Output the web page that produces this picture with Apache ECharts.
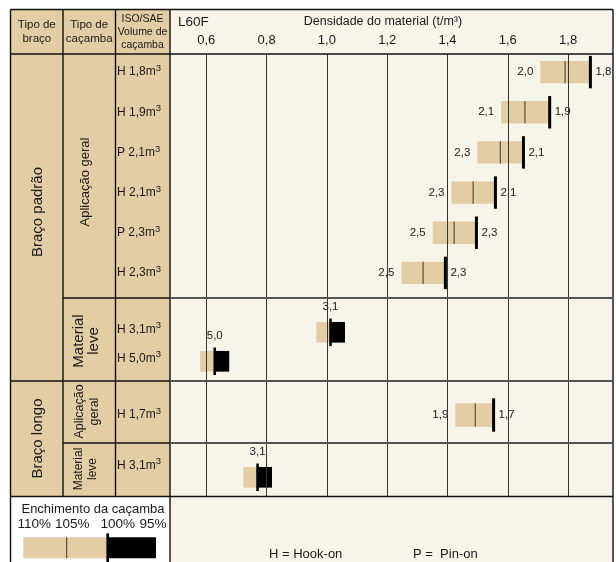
<!DOCTYPE html>
<html><head><meta charset="utf-8">
<script src="https://cdn.jsdelivr.net/npm/echarts@6/dist/echarts.min.js"></script>
<style>html,body{margin:0;padding:0;background:#fff}#c{width:616px;height:562px}</style>
</head><body><div id="c"></div>
<script>
// ---- data ----
const ticks = [0.6, 0.8, 1.0, 1.2, 1.4, 1.6, 1.8];

const stdGenCats  = ['H 1,8', 'H 1,9', 'P 2,1', 'H 2,1', 'P 2,3', 'H 2,3'];
const stdGenLeft  = ['2,0', '2,1', '2,3', '2,3', '2,5', '2,5'];
const stdGenRight = ['1,8', '1,9', '2,1', '2,1', '2,3', '2,3'];
const stdGen110   = [1.708, 1.578, 1.499, 1.413, 1.351, 1.247];
const stdGen105   = [1.790, 1.657, 1.575, 1.485, 1.422, 1.319];
const stdGen100   = [1.874, 1.739, 1.652, 1.559, 1.496, 1.393];

const stdLightCats  = ['H 3,1', 'H 5,0'];
const stdLightLabel = ['3,1', '5,0'];
const stdLight105   = [0.965, 0.580];
const stdLight100   = [1.012, 0.628];
const stdLight95    = [1.060, 0.676];

const longGenCats  = ['H 1,7'];
const longGenLeft  = ['1,9'];
const longGenRight = ['1,7'];
const longGen110   = [1.426];
const longGen105   = [1.492];
const longGen100   = [1.553];

const longLightCats  = ['H 3,1'];
const longLightLabel = ['3,1'];
const longLight105   = [0.723];
const longLight100   = [0.770];
const longLight95    = [0.818];

// ---- style / layout ----
const F = "'Liberation Sans', Arial, Helvetica, sans-serif";
const BEIGE = '#E2CDA5', CREAM = '#F7F4EA', INK = '#1a1a1a', MID = '#3d3526';
const L = 10.5, C1 = 63, C2 = 115.5, C3 = 170, R = 613, T = 9.5, HB = 54, S1 = 298, S2 = 381, S3 = 443, TB = 496.5, BOT = 562;
const XMIN = 0.4796, XMAX = 1.949;

const chart = echarts.init(document.getElementById('c'), null, {renderer: 'canvas'});

function txt(x, y, text, size, o) {
  o = o || {};
  const st = {text: text, font: (o.weight ? o.weight + ' ' : '') + size + 'px ' + F, fill: o.fill || INK,
    align: o.align || 'center', verticalAlign: o.va || 'middle'};
  if (o.lh) st.lineHeight = o.lh;
  return {type: 'text', x: x, y: y, rotation: o.rot || 0, z: 20, silent: true, style: st};
}
function rect(x, y, w, h, fill, z) {
  return {type: 'rect', shape: {x: x, y: y, width: w, height: h}, style: {fill: fill}, z: z == null ? 0 : z, silent: true};
}
function line(x1, y1, x2, y2, stroke, w, z) {
  return {type: 'line', shape: {x1: x1, y1: y1, x2: x2, y2: y2}, style: {stroke: stroke, lineWidth: w}, z: z == null ? 15 : z, silent: true};
}
const ROT = Math.PI / 2;
const fmt = v => v.toFixed(1).replace('.', ',');

const graphics = [
  // backgrounds
  rect(L, T, C3 - L, TB - T, BEIGE, -5),
  rect(C3, T, R - C3, BOT - T, CREAM, -5),
  rect(L, TB, C3 - L, BOT - TB, '#ffffff', -4),
  // table lines
  line(L, T, R, T, '#111', 1.4),
  line(L, HB, R, HB, '#111', 1.4),
  line(L, T, L, BOT, '#111', 1.4),
  line(R, T, R, BOT, '#111', 1.4),
  line(C1, T, C1, TB, '#111', 1.4),
  line(C2, T, C2, TB, '#111', 1.4),
  line(C3, T, C3, BOT, '#111', 1.4),
  line(L, TB, R, TB, '#111', 1.4),
  line(C1, S1, C3, S1, '#111', 1.4),
  line(L, S2, C3, S2, '#111', 1.4),
  line(C1, S3, C3, S3, '#111', 1.4),
  line(C3, S1, R, S1, '#555', 2),
  line(C3, S2, R, S2, '#555', 2),
  line(C3, S3, R, S3, '#555', 2),
  // header texts
  txt(36.8, 32, 'Tipo de\nbraço', 11.5, {lh: 14}),
  txt(89.2, 32, 'Tipo de\ncaçamba', 11.5, {lh: 14}),
  txt(142.5, 32, 'ISO/SAE\nVolume de\ncaçamba', 10.5, {lh: 13}),
  txt(178, 22, 'L60F', 13.5, {align: 'left'}),
  txt(383, 21.5, 'Densidade do material (t/m³)', 12.5),
  // rotated group labels
  txt(37.5, 212, 'Braço padrão', 15, {rot: ROT}),
  txt(85, 182, 'Aplicação geral', 13, {rot: ROT}),
  txt(86.5, 341, 'Material\nleve', 15, {rot: ROT, lh: 15}),
  txt(37.5, 438.5, 'Braço longo', 15, {rot: ROT}),
  txt(87, 411.5, 'Aplicação\ngeral', 12.5, {rot: ROT, lh: 15}),
  txt(85.5, 469, 'Material\nleve', 12, {rot: ROT, lh: 13.5}),
  // legend
  txt(93, 509, 'Enchimento da caçamba', 13),
  txt(34.2, 524.5, '110%', 13.5),
  txt(72.2, 524.5, '105%', 13.5),
  txt(117.7, 524.5, '100%', 13.5),
  txt(153, 524.5, '95%', 13.5),
  rect(23.3, 537.3, 84, 21, BEIGE, 5),
  line(66.7, 537.3, 66.7, 558.3, MID, 1, 6),
  rect(107.3, 537.3, 48.7, 21, '#000', 5),
  rect(106.4, 533.3, 2.6, 30, '#000', 6),
  txt(269, 554, 'H = Hook-on', 13, {align: 'left'}),
  txt(413, 554, 'P =  Pin-on', 13, {align: 'left'})
];

function yCat(gi, cats, pad) {
  return {type: 'category', gridIndex: gi, data: cats, inverse: true,
    axisLine: {show: false}, axisTick: {show: false}, splitLine: {show: false},
    axisLabel: {align: 'left', margin: 53, color: INK, fontSize: 12, fontFamily: F, padding: pad,
      formatter: v => v + 'm{s|3}',
      rich: {s: {fontSize: 9.5, fontFamily: F, color: INK, padding: [0, 0, 7, 0]}}}};
}
function xHidden(gi) {
  return {type: 'value', gridIndex: gi, min: XMIN, max: XMAX, show: false, splitLine: {show: false}};
}

function genSeries(gi, a110, a105, a100, leftL, rightL, h, ext) {
  return {type: 'custom', xAxisIndex: gi, yAxisIndex: gi, encode: {x: [0, 1, 2], y: 3}, z: 3,
    data: a100.map((v, i) => [a110[i], a105[i], v, i]),
    renderItem: (params, api) => {
      const i = params.dataIndex, yv = api.value(3);
      const p0 = api.coord([api.value(0), yv]), p1 = api.coord([api.value(1), yv]), p2 = api.coord([api.value(2), yv]);
      const cy = p0[1];
      return {type: 'group', children: [
        {type: 'rect', shape: {x: p0[0], y: cy - h / 2, width: p2[0] - p0[0], height: h}, style: {fill: BEIGE}},
        {type: 'line', shape: {x1: p1[0], y1: cy - h / 2, x2: p1[0], y2: cy + h / 2}, style: {stroke: MID, lineWidth: 1}},
        {type: 'rect', shape: {x: p2[0] - 1.5, y: cy - h / 2 - ext, width: 3, height: h + 2 * ext}, style: {fill: '#000'}},
        {type: 'text', x: p0[0] - 7, y: cy, style: {text: leftL[i], font: '11.5px ' + F, fill: INK, align: 'right', verticalAlign: 'middle'}},
        {type: 'text', x: p2[0] + 5, y: cy, style: {text: rightL[i], font: '11.5px ' + F, fill: INK, align: 'left', verticalAlign: 'middle'}}
      ]};
    }};
}
function lightSeries(gi, a105, a100, a95, lbl, h, ext) {
  return {type: 'custom', xAxisIndex: gi, yAxisIndex: gi, encode: {x: [0, 1, 2], y: 3}, z: 3,
    data: a100.map((v, i) => [a105[i], v, a95[i], i]),
    renderItem: (params, api) => {
      const i = params.dataIndex, yv = api.value(3);
      const p0 = api.coord([api.value(0), yv]), p1 = api.coord([api.value(1), yv]), p2 = api.coord([api.value(2), yv]);
      const cy = p0[1];
      return {type: 'group', children: [
        {type: 'rect', shape: {x: p0[0], y: cy - h / 2, width: p1[0] - p0[0], height: h}, style: {fill: BEIGE}},
        {type: 'rect', shape: {x: p1[0], y: cy - h / 2, width: p2[0] - p1[0], height: h}, style: {fill: '#000'}},
        {type: 'rect', shape: {x: p1[0] - 1.3, y: cy - h / 2 - ext, width: 2.6, height: h + 2 * ext}, style: {fill: '#000'}},
        {type: 'text', x: p1[0], y: cy - h / 2 - 15, style: {text: lbl[i], font: '11.5px ' + F, fill: INK, align: 'center', verticalAlign: 'middle'}}
      ]};
    }};
}

const option = {
  animation: false,
  backgroundColor: '#ffffff',
  graphic: graphics,
  grid: [
    {left: C3, width: R - C3, top: HB, height: TB - HB},
    {left: C3, width: R - C3, top: 52, height: 241},
    {left: C3, width: R - C3, top: 317.8, height: 58},
    {left: C3, width: R - C3, top: 400, height: 30},
    {left: C3, width: R - C3, top: 462.3, height: 30}
  ],
  xAxis: [
    {type: 'value', gridIndex: 0, position: 'top', min: XMIN, max: XMAX,
      axisLine: {show: false}, axisTick: {show: false}, splitLine: {show: false},
      axisLabel: {customValues: ticks, margin: 7, color: INK, fontSize: 13, fontFamily: F, formatter: fmt}},
    xHidden(1), xHidden(2), xHidden(3), xHidden(4)
  ],
  yAxis: [
    {type: 'value', gridIndex: 0, min: 0, max: 1, show: false, splitLine: {show: false}},
    yCat(1, stdGenCats, [0, 0, 0, 0]),
    yCat(2, stdLightCats, [0, 0, 6, 0]),
    yCat(3, longGenCats, [0, 0, 0, 0]),
    yCat(4, longLightCats, [0, 0, 24, 0])
  ],
  series: [
    {type: 'scatter', xAxisIndex: 0, yAxisIndex: 0, data: [], silent: true,
      markLine: {silent: true, symbol: ['none', 'none'], label: {show: false},
        lineStyle: {color: '#333', width: 1, type: 'solid'},
        data: ticks.map(v => ({xAxis: v}))}},
    genSeries(1, stdGen110, stdGen105, stdGen100, stdGenLeft, stdGenRight, 22.4, 5),
    lightSeries(2, stdLight105, stdLight100, stdLight95, stdLightLabel, 20.7, 3.4),
    genSeries(3, longGen110, longGen105, longGen100, longGenLeft, longGenRight, 23.4, 5),
    lightSeries(4, longLight105, longLight100, longLight95, longLightLabel, 20.7, 3.4)
  ]
};
chart.setOption(option);
</script>
</body></html>
